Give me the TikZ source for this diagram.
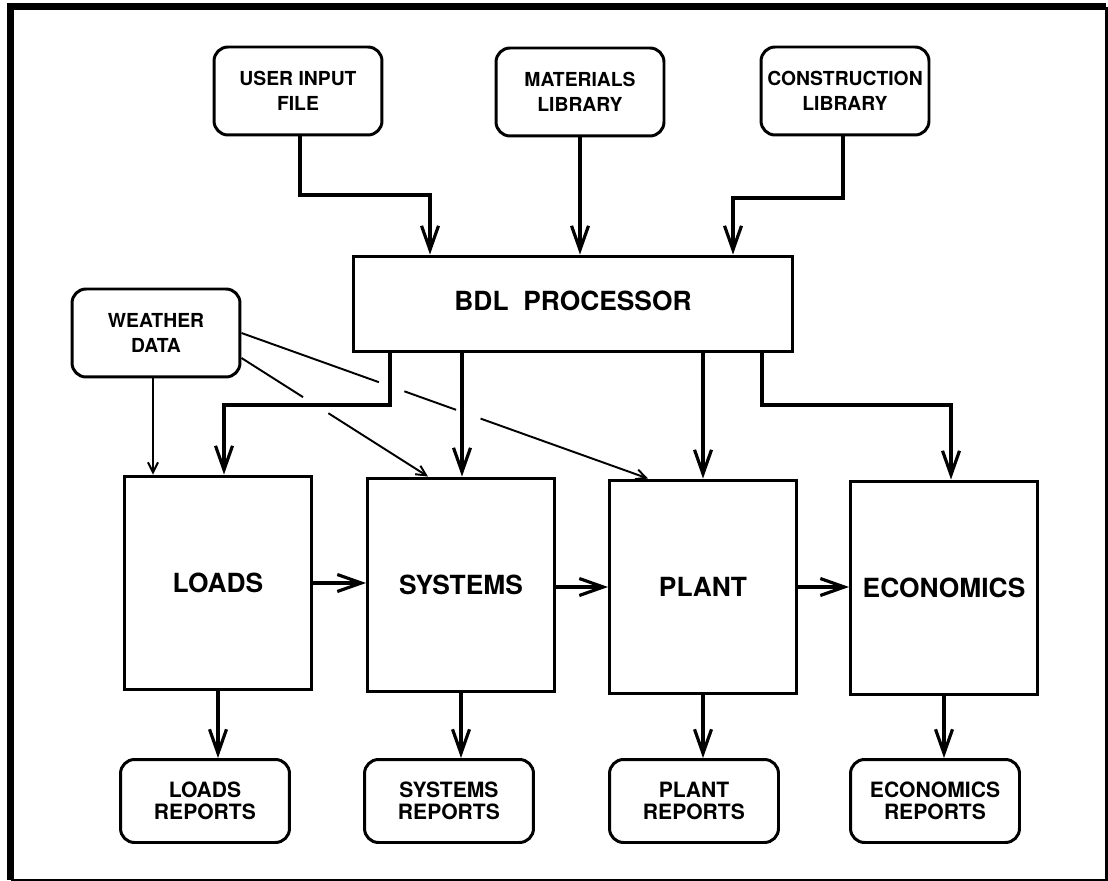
\documentclass[tikz,border=0pt]{standalone}
\usepackage{fontspec}
\setmainfont{TeX Gyre Heros}
\usetikzlibrary{arrows.meta}
\tikzset{
  caixa/.style={
    draw, line width=1.7pt, rounded corners=8pt, minimum width=3.36cm, minimum height=1.76cm,
    align=center, inner sep=1pt, font=\fontsize{11}{14.2}\selectfont\bfseries
  },
  relatorio/.style={caixa, minimum width=3.38cm, minimum height=1.66cm, font=\fontsize{12}{12.5}\selectfont\bfseries},
  modulo/.style={draw, line width=1.7pt, minimum width=3.74cm, minimum height=4.28cm, inner sep=1pt, font=\fontsize{15}{18}\selectfont\bfseries},
  bloco/.style={draw, line width=1.7pt, minimum width=8.8cm, minimum height=1.92cm, font=\fontsize{15}{18}\selectfont\bfseries},
  seta/.style={-{Straight Barb[length=0.48cm,width=0.34cm]}, line width=1.8pt},
  setafina/.style={-{Straight Barb[length=0.2cm,width=0.2cm]}, line width=1.1pt},
}

\begin{document}
\begin{tikzpicture}[x=0.02cm, y=-0.02cm]

\useasboundingbox (0,0) rectangle (1108,881);
\draw[line width=7*0.02cm] (10.5,880) -- (10.5,7) -- (1106,7);
\draw[line width=3*0.02cm] (1106,7) -- (1106,880) -- (10.5,880);

\node[caixa] (input) at (298,91) {USER INPUT\\FILE};
\node[caixa] (materials) at (580,92) {MATERIALS\\LIBRARY};
\node[caixa] (construction) at (845,91) {CONSTRUCTION\\LIBRARY};

\node[bloco] (bdl) at (573,304) {\raisebox{0.14cm}{BDL\ \ PROCESSOR}};

\node[caixa] (weather) at (156,333) {WEATHER\\DATA};

\node[modulo] (loads) at (218,583) {LOADS};
\node[modulo] (systems) at (461,585) {SYSTEMS};
\node[modulo] (plant) at (703,587) {PLANT};
\node[modulo] (economics) at (944,588) {ECONOMICS};

\node[relatorio] (loadsrep) at (205,801) {LOADS\\REPORTS};
\node[relatorio] (systemsrep) at (449,801) {SYSTEMS\\REPORTS};
\node[relatorio] (plantrep) at (694,801) {PLANT\\REPORTS};
\node[relatorio] (economicsrep) at (935,801) {ECONOMICS\\REPORTS};

\draw[seta] (input.south -| 300,0) -- (300,195) -| (430,0 |- bdl.north);
\draw[seta] (materials.south) -- (materials.south |- bdl.north);
\draw[seta] (construction.south -| 843,0) -- (843,198) -| (733,0 |- bdl.north);

\draw[seta] (bdl.south -| 390,0) -- (390,405) -| (224,0 |- loads.north);
\draw[seta] (bdl.south -| 462,0) -- (462,0 |- systems.north);
\draw[seta] (bdl.south -| 703,0) -- (703,0 |- plant.north);
\draw[seta] (bdl.south -| 762,0) -- (762,405) -| (951,0 |- economics.north);

\draw[setafina] (weather.south -| 153,0) -- (153,0 |- loads.north);
\draw[setafina, dash pattern=on 2.92cm off 0.54cm on 1.1cm off 0.52cm on 5cm]
  (weather.east) -- (648,0 |- plant.north);
\draw[setafina, dash pattern=on 1.46cm off 0.6cm on 4cm]
  ([yshift=-0.5cm]weather.east) -- (428,0 |- systems.north);

\draw[seta] (loads.east) -- (loads.east -| systems.west);
\draw[seta] (systems.east |- 0,587) -- (plant.west |- 0,587);
\draw[seta] (plant.east |- 0,587) -- (economics.west |- 0,587);

\draw[seta] (loads.south) -- (loads.south |- loadsrep.north);
\draw[seta] (systems.south) -- (systems.south |- systemsrep.north);
\draw[seta] (plant.south) -- (plant.south |- plantrep.north);
\draw[seta] (economics.south) -- (economics.south |- economicsrep.north);

\end{tikzpicture}
\end{document}
